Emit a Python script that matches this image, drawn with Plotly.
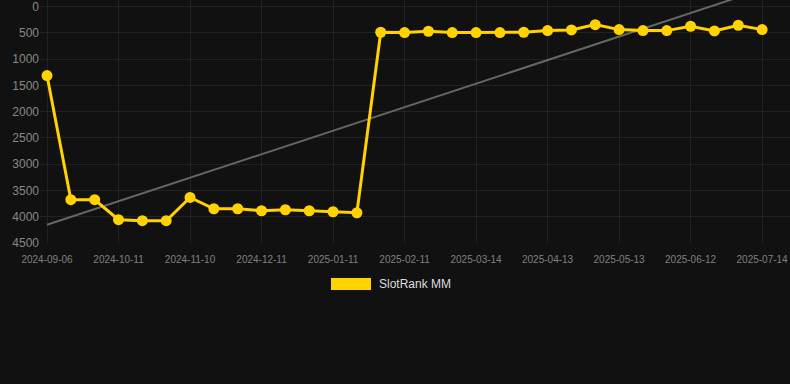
import numpy as np
import plotly.graph_objects as go

dates = [
    "2024-09-06", "2024-09-18", "2024-09-29", "2024-10-11", "2024-10-21",
    "2024-10-31", "2024-11-10", "2024-11-20", "2024-12-01", "2024-12-11",
    "2024-12-21", "2025-01-01", "2025-01-11", "2025-01-21", "2025-02-01",
    "2025-02-11", "2025-02-21", "2025-03-04", "2025-03-14", "2025-03-24",
    "2025-04-03", "2025-04-13", "2025-04-23", "2025-05-03", "2025-05-13",
    "2025-05-23", "2025-06-02", "2025-06-12", "2025-06-23", "2025-07-03",
    "2025-07-14",
]
rank = [
    1312, 3676, 3676, 4057, 4076, 4076, 3633, 3848, 3848, 3886,
    3867, 3886, 3905, 3924, 487, 494, 468, 494, 494, 494,
    487, 456, 443, 342, 437, 456, 456, 373, 462, 354,
    437,
]
tick_dates = dates[::3]
y_ticks = [0, 500, 1000, 1500, 2000, 2500, 3000, 3500, 4000, 4500]
series_name = "SlotRank MM"

# linear trend through the series
idx = np.arange(len(rank))
slope, intercept = np.polyfit(idx, rank, 1)
trend = slope * idx + intercept

GOLD = "#ffd200"
FONT = "Liberation Sans, Arial, sans-serif"

fig = go.Figure()
fig.add_trace(go.Scatter(
    x=dates, y=trend, mode="lines",
    line=dict(color="#666666", width=2),
    showlegend=False, hoverinfo="skip",
))
fig.add_trace(go.Scatter(
    x=dates, y=rank, mode="lines+markers", name=series_name,
    line=dict(color=GOLD, width=3),
    marker=dict(color=GOLD, size=11),
    showlegend=False,
))

W, H = 790, 384
L, R, T, B = 40, 0, 0, 141
pw, ph = W - L - R, H - T - B

def px_x(p):
    return (p - L) / pw

def px_y(p):
    return (H - B - p) / ph

# manual legend
fig.add_shape(type="rect", xref="paper", yref="paper",
              x0=px_x(331), x1=px_x(371), y0=px_y(290), y1=px_y(278),
              fillcolor=GOLD, line=dict(width=0))
fig.add_annotation(xref="paper", yref="paper", x=px_x(377), y=px_y(284),
                   text=series_name, showarrow=False, xanchor="left", yanchor="middle",
                   font=dict(family=FONT, size=12, color="#dddddd"))

fig.update_layout(
    width=W, height=H,
    margin=dict(l=L, r=R, t=T, b=B, pad=0),
    paper_bgcolor="#111111", plot_bgcolor="#111111",
    font=dict(family=FONT),
    showlegend=False,
    xaxis=dict(
        type="category", range=[-0.294, 31.17],
        tickvals=tick_dates, ticktext=tick_dates,
        showgrid=True, gridcolor="#222222", gridwidth=1,
        zeroline=False, showline=False, ticks="",
        ticklabelstandoff=9, ticklabeloverflow="allow",
        tickfont=dict(size=10, color="#808080"),
    ),
    yaxis=dict(
        range=[4500, -127],
        tickvals=y_ticks, ticktext=[str(v) for v in y_ticks],
        showgrid=True, gridcolor="#222222", gridwidth=1,
        zeroline=False, showline=False, ticks="",
        ticklabeloverflow="allow",
        tickfont=dict(size=12, color="#888888"),
    ),
)

fig.write_html("out.html")
